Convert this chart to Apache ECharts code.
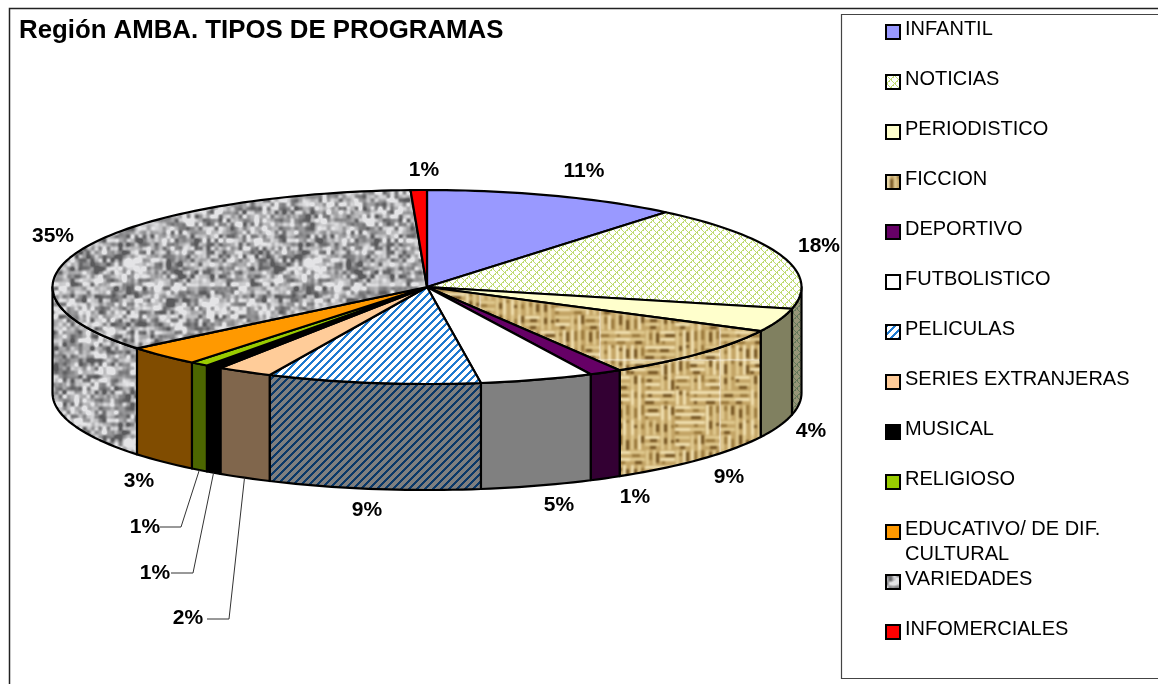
<!DOCTYPE html>
<html>
<head>
<meta charset="utf-8">
<style>html,body{margin:0;padding:0;background:#fff}#c{width:1158px;height:684px}</style>
<script src="https://cdn.jsdelivr.net/npm/echarts@6/dist/echarts.min.js"></script>
</head>
<body>
<div id="c"></div>
<script>
const titleText = 'Región AMBA. TIPOS DE PROGRAMAS';
const categories = ['INFANTIL','NOTICIAS','PERIODISTICO','FICCION','DEPORTIVO','FUTBOLISTICO','PELICULAS','SERIES EXTRANJERAS','MUSICAL','RELIGIOSO','EDUCATIVO/ DE DIF. CULTURAL','VARIEDADES','INFOMERCIALES'];
const values = [11, 17.6, 3.9, 8.9, 1.4, 4.9, 9.2, 2.4, 0.7, 0.8, 3.3, 35.2, 0.7];
const labelCenters = [[584,171],[819,246],[811,431],[729,477],[635,497],[559,505],[367,510],[188,618],[155,573],[145,527],[139,481],[53,236],[424,170]];
const leaderElbows = {7:[[229,619],[207,619]], 8:[[193,573],[171,573]], 9:[[181,527],[160,527]]};

function tile(w, h, paint) {
  const c = document.createElement('canvas');
  c.width = w; c.height = h;
  paint(c.getContext('2d'), w, h);
  return {image: c, repeat: 'repeat'};
}
function hash(x, y) {
  let n = Math.imul(x + 1, 73856093) ^ Math.imul(y + 1, 19349663);
  n = Math.imul(n ^ (n >>> 15), 2246822519);
  n = Math.imul(n ^ (n >>> 13), 3266489917);
  return ((n ^ (n >>> 16)) >>> 0) / 4294967295;
}
function pixels(ctx, w, h, fn) {
  const d = ctx.createImageData(w, h);
  for (let y = 0; y < h; y++) for (let x = 0; x < w; x++) {
    const [r, g, b] = fn(x, y), i = (y * w + x) * 4;
    d.data[i] = r; d.data[i+1] = g; d.data[i+2] = b; d.data[i+3] = 255;
  }
  ctx.putImageData(d, 0, 0);
}
function stripes(fg, bg) {
  return tile(8, 8, (ctx, w, h) => pixels(ctx, w, h, (x, y) => ((x + y) % 8 < 3 ? fg : bg)));
}
function lattice(fg, bg) {
  return tile(8, 8, (ctx, w, h) => pixels(ctx, w, h, (x, y) => {
    const a = (x + y) % 8, b = ((x - y) % 8 + 8) % 8;
    return ((a < 2 && b % 4 < 3) || (b === 0)) ? fg : bg;
  }));
}
function smoothNoise(x, y, s, w) {
  const gx = Math.floor(x / s), gy = Math.floor(y / s), fx = x / s - gx, fy = y / s - gy, n = Math.round(w / s);
  const sm = t => t * t * (3 - 2 * t), u = sm(fx), v = sm(fy);
  const h = (a, b) => hash((a % n + n) % n + s * 101, (b % n + n) % n + s * 57);
  return (h(gx,gy)*(1-u)+h(gx+1,gy)*u)*(1-v) + (h(gx,gy+1)*(1-u)+h(gx+1,gy+1)*u)*v;
}
const granite = tile(180, 180, (ctx, w, h) => pixels(ctx, w, h, (x, y) => {
  const n = 0.55 * smoothNoise(x, y, 4, w) + 0.3 * smoothNoise(x, y, 6, w) + 0.15 * smoothNoise(x, y, 12, w);
  const v = Math.max(90, Math.min(228, 170 + (n - 0.5) * 290));
  return [v, v, v + 2];
}));
const burlap = tile(120, 120, (ctx, w, h) => {
  const raw = document.createElement('canvas');
  raw.width = w; raw.height = h;
  const g = raw.getContext('2d');
  g.fillStyle = '#c4a566'; g.fillRect(0, 0, w, h);
  const cell = 15;
  for (let j = 0; j < 8; j++) for (let i = 0; i < 8; i++) {
    const x = i * cell, y = j * cell, horizontal = ((i + j) % 2 === 0) !== (hash(i + 9, j + 4) > 0.7);
    for (let k = 0; k < 2; k++) {
      const off = 1 + k * 7;
      g.fillStyle = hash(i * 3 + k, j * 5) > 0.5 ? '#f3e3b4' : '#e2cc92';
      if (horizontal) g.fillRect(x, y + off, cell, 3); else g.fillRect(x + off, y, 3, cell);
      g.fillStyle = hash(i * 7 + k, j * 2) > 0.55 ? '#6f4e1c' : '#977538';
      const len = 3 + Math.floor(hash(i + k, j * 11) * 8), at = Math.floor(hash(i * 5 + k, j + 2) * 6);
      if (horizontal) g.fillRect(x + at, y + off + 3, len, 3); else g.fillRect(x + off + 3, y + at, 3, len);
    }
  }
  ctx.filter = 'blur(0.8px)';
  ctx.drawImage(raw, 0, 0);
});

const topFill = ['#9999ff', lattice([190,218,110],[255,255,255]), '#ffffcc', burlap, '#660066', '#ffffff',
  stripes([31,122,208],[255,255,255]), '#ffcc99', '#000000', '#99cc00', '#ff9900', granite, '#ff0000'];
const wallFill = ['#4c4c80', lattice([100,120,90],[150,150,120]), '#808060', burlap, '#330033', '#808080',
  stripes([10,56,104],[127,127,127]), '#80664c', '#000000', '#4c6600', '#804c00', granite, '#800000'];

const cx = 427, cy = 287, rx = 374.5, ry = 97, depth = 106;
const total = values.reduce((a, b) => a + b, 0);
const pt = (deg, dy) => {
  const t = deg * Math.PI / 180;
  return [cx + rx * Math.sin(t), cy - ry * Math.cos(t) + (dy || 0)];
};
function arcPoints(a, b, dy) {
  const n = Math.max(2, Math.ceil(Math.abs(b - a) / 1.5)), out = [];
  for (let i = 0; i <= n; i++) out.push(pt(a + (b - a) * i / n, dy));
  return out;
}
const edge = {stroke: '#000', lineWidth: 2.2, lineJoin: 'round'};

function renderSlice(index) {
  return function (params, api) {
    const v = api.value(0);
    let start = 0;
    for (let i = 0; i < index; i++) start += values[i];
    const a0 = start / total * 360, a1 = a0 + v / total * 360, children = [];
    const w0 = Math.max(a0, 90), w1 = Math.min(a1, 270);
    if (w1 > w0) {
      children.push({type: 'polygon', z2: 1,
        shape: {points: arcPoints(w0, w1, 0).concat(arcPoints(w1, w0, depth))},
        style: Object.assign({fill: wallFill[index]}, edge)});
    }
    children.push({type: 'polygon', z2: 2,
      shape: {points: [[cx, cy]].concat(arcPoints(a0, a1, 0))},
      style: Object.assign({fill: topFill[index]}, edge)});
    if (leaderElbows[index]) {
      children.push({type: 'polyline', z2: 3,
        shape: {points: [pt((a0 + a1) / 2, depth)].concat(leaderElbows[index])},
        style: {fill: null, stroke: '#333', lineWidth: 1}});
    }
    children.push({type: 'text', z2: 4,
      style: {text: Math.round(v / total * 100) + '%', x: labelCenters[index][0], y: labelCenters[index][1],
        align: 'center', verticalAlign: 'middle', fill: '#000', font: 'bold 21px "Liberation Sans"'}});
    return {type: 'group', children};
  };
}

const chart = echarts.init(document.getElementById('c'), null, {renderer: 'canvas'});
chart.setOption({
  animation: false,
  backgroundColor: '#fff',
  title: {text: titleText, left: 19, top: 18, padding: 0,
    textStyle: {fontFamily: 'Liberation Sans', fontWeight: 'bold', fontSize: 25.8, color: '#000'}},
  tooltip: {show: false},
  legend: {
    orient: 'vertical', left: 885, top: 19, padding: 0,
    itemWidth: 14, itemHeight: 14, itemGap: 29, selectedMode: false,
    formatter: n => '{a|' + n.split(' CULTURAL')[0] + '}',
    textStyle: {rich: {a: {fontFamily: 'Liberation Sans', fontSize: 20, color: '#000', padding: [0, 0, 6, 0]}}},
    data: categories.map((name, i) => ({name, icon: 'rect',
      itemStyle: {color: topFill[i], borderColor: '#000', borderWidth: 2}}))
  },
  graphic: [
    {type: 'rect', silent: true, z: -1, shape: {x: 9.5, y: 8.5, width: 1300, height: 900}, style: {fill: null, stroke: '#222', lineWidth: 1.5}},
    {type: 'rect', silent: true, z: -1, shape: {x: 841.5, y: 14.5, width: 500, height: 664}, style: {fill: null, stroke: '#444', lineWidth: 1.2}},
    {type: 'text', silent: true, style: {text: 'CULTURAL', x: 905, y: 554, verticalAlign: 'middle', fill: '#000', font: '20px "Liberation Sans"'}}
  ],
  series: categories.map((name, i) => ({
    type: 'custom', name, coordinateSystem: 'none', silent: true,
    itemStyle: {color: topFill[i]},
    data: [[values[i]]],
    renderItem: renderSlice(i)
  }))
});
</script>
</body>
</html>
